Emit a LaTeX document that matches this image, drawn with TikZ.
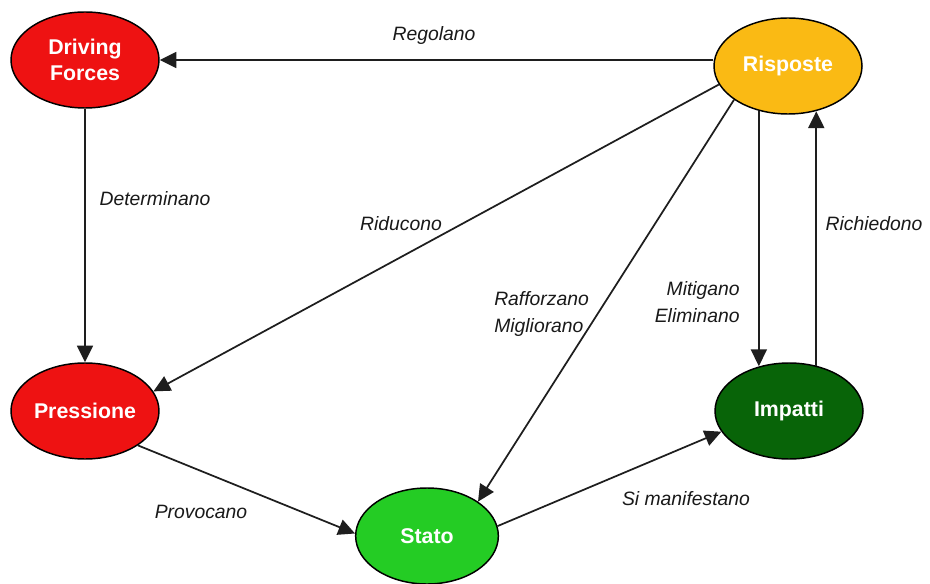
\documentclass[tikz,border=0pt]{standalone}
\usepackage{fontspec}
\setmainfont{Liberation Sans}
\usetikzlibrary{arrows.meta,shapes.geometric}
\definecolor{dfred}{RGB}{238,18,18}
\definecolor{rspgold}{RGB}{250,186,20}
\definecolor{impgreen}{RGB}{8,100,8}
\definecolor{statgreen}{RGB}{36,204,36}
\definecolor{linkgray}{RGB}{30,30,30}
\tikzset{
  phase/.style={ellipse, draw=black, line width=1.1pt, inner sep=0pt,
    minimum width=111pt, minimum height=72pt, text=white,
    font=\fontsize{16pt}{19.5pt}\selectfont\bfseries, align=center},
  link/.style={draw=linkgray, line width=1.3pt,
    -{Triangle[length=12.5pt,width=12pt]}},
  tag/.style={font=\fontsize{14.5pt}{20pt}\selectfont\itshape, text=black!90, inner sep=0pt}
}
\begin{document}
\begin{tikzpicture}[x=0.75pt,y=-0.75pt]
  \fill[white] (0,0) rectangle (930,584);
  \useasboundingbox (0,0) rectangle (930,584);

  % DPSIR elements
  \node[phase, fill=dfred] (drive) at (85,60) {Driving\\Forces};
  \node[phase, fill=rspgold] (risp) at (788,66) {Risposte};
  \node[phase, fill=dfred] (pres) at (85,411) {Pressione};
  \node[phase, fill=impgreen] (imp) at (789,411) {Impatti};
  \node[phase, fill=statgreen, minimum width=107pt] (stato) at (427,536) {Stato};

  % relations
  \draw[link] (risp.west |- drive.east) -- (drive.east);
  \draw[link] (drive) -- (pres);
  \draw[link] (risp.195) -- (pres.16);
  \draw[link] (risp.212) -- (stato.34);
  \draw[link] (risp.237.8) -- (risp.237.8 |- imp.123.3);
  \draw[link] (imp.59.4) -- (imp.59.4 |- risp.301.6);
  \draw[link] (pres.327) -- (stato.178);
  \draw[link] (stato.8) -- (imp.197);

  % relation labels
  \node[tag] (lreg) at (434,36) {Regolano};
  \node[tag] (ldet) at (155,199) {Determinano};
  \node[tag] (lrid) at (401,224) {Riducono};
  \node[tag, align=left, anchor=west] (lraf) at (494,314) {Rafforzano\\Migliorano};
  \node[tag, align=right, anchor=east] (lmit) at (740,302) {Mitigano\\Eliminano};
  \node[tag] (lric) at (874,224) {Richiedono};
  \node[tag] (lpro) at (201,512) {Provocano};
  \node[tag] (lman) at (686,499) {Si manifestano};
\end{tikzpicture}
\end{document}
